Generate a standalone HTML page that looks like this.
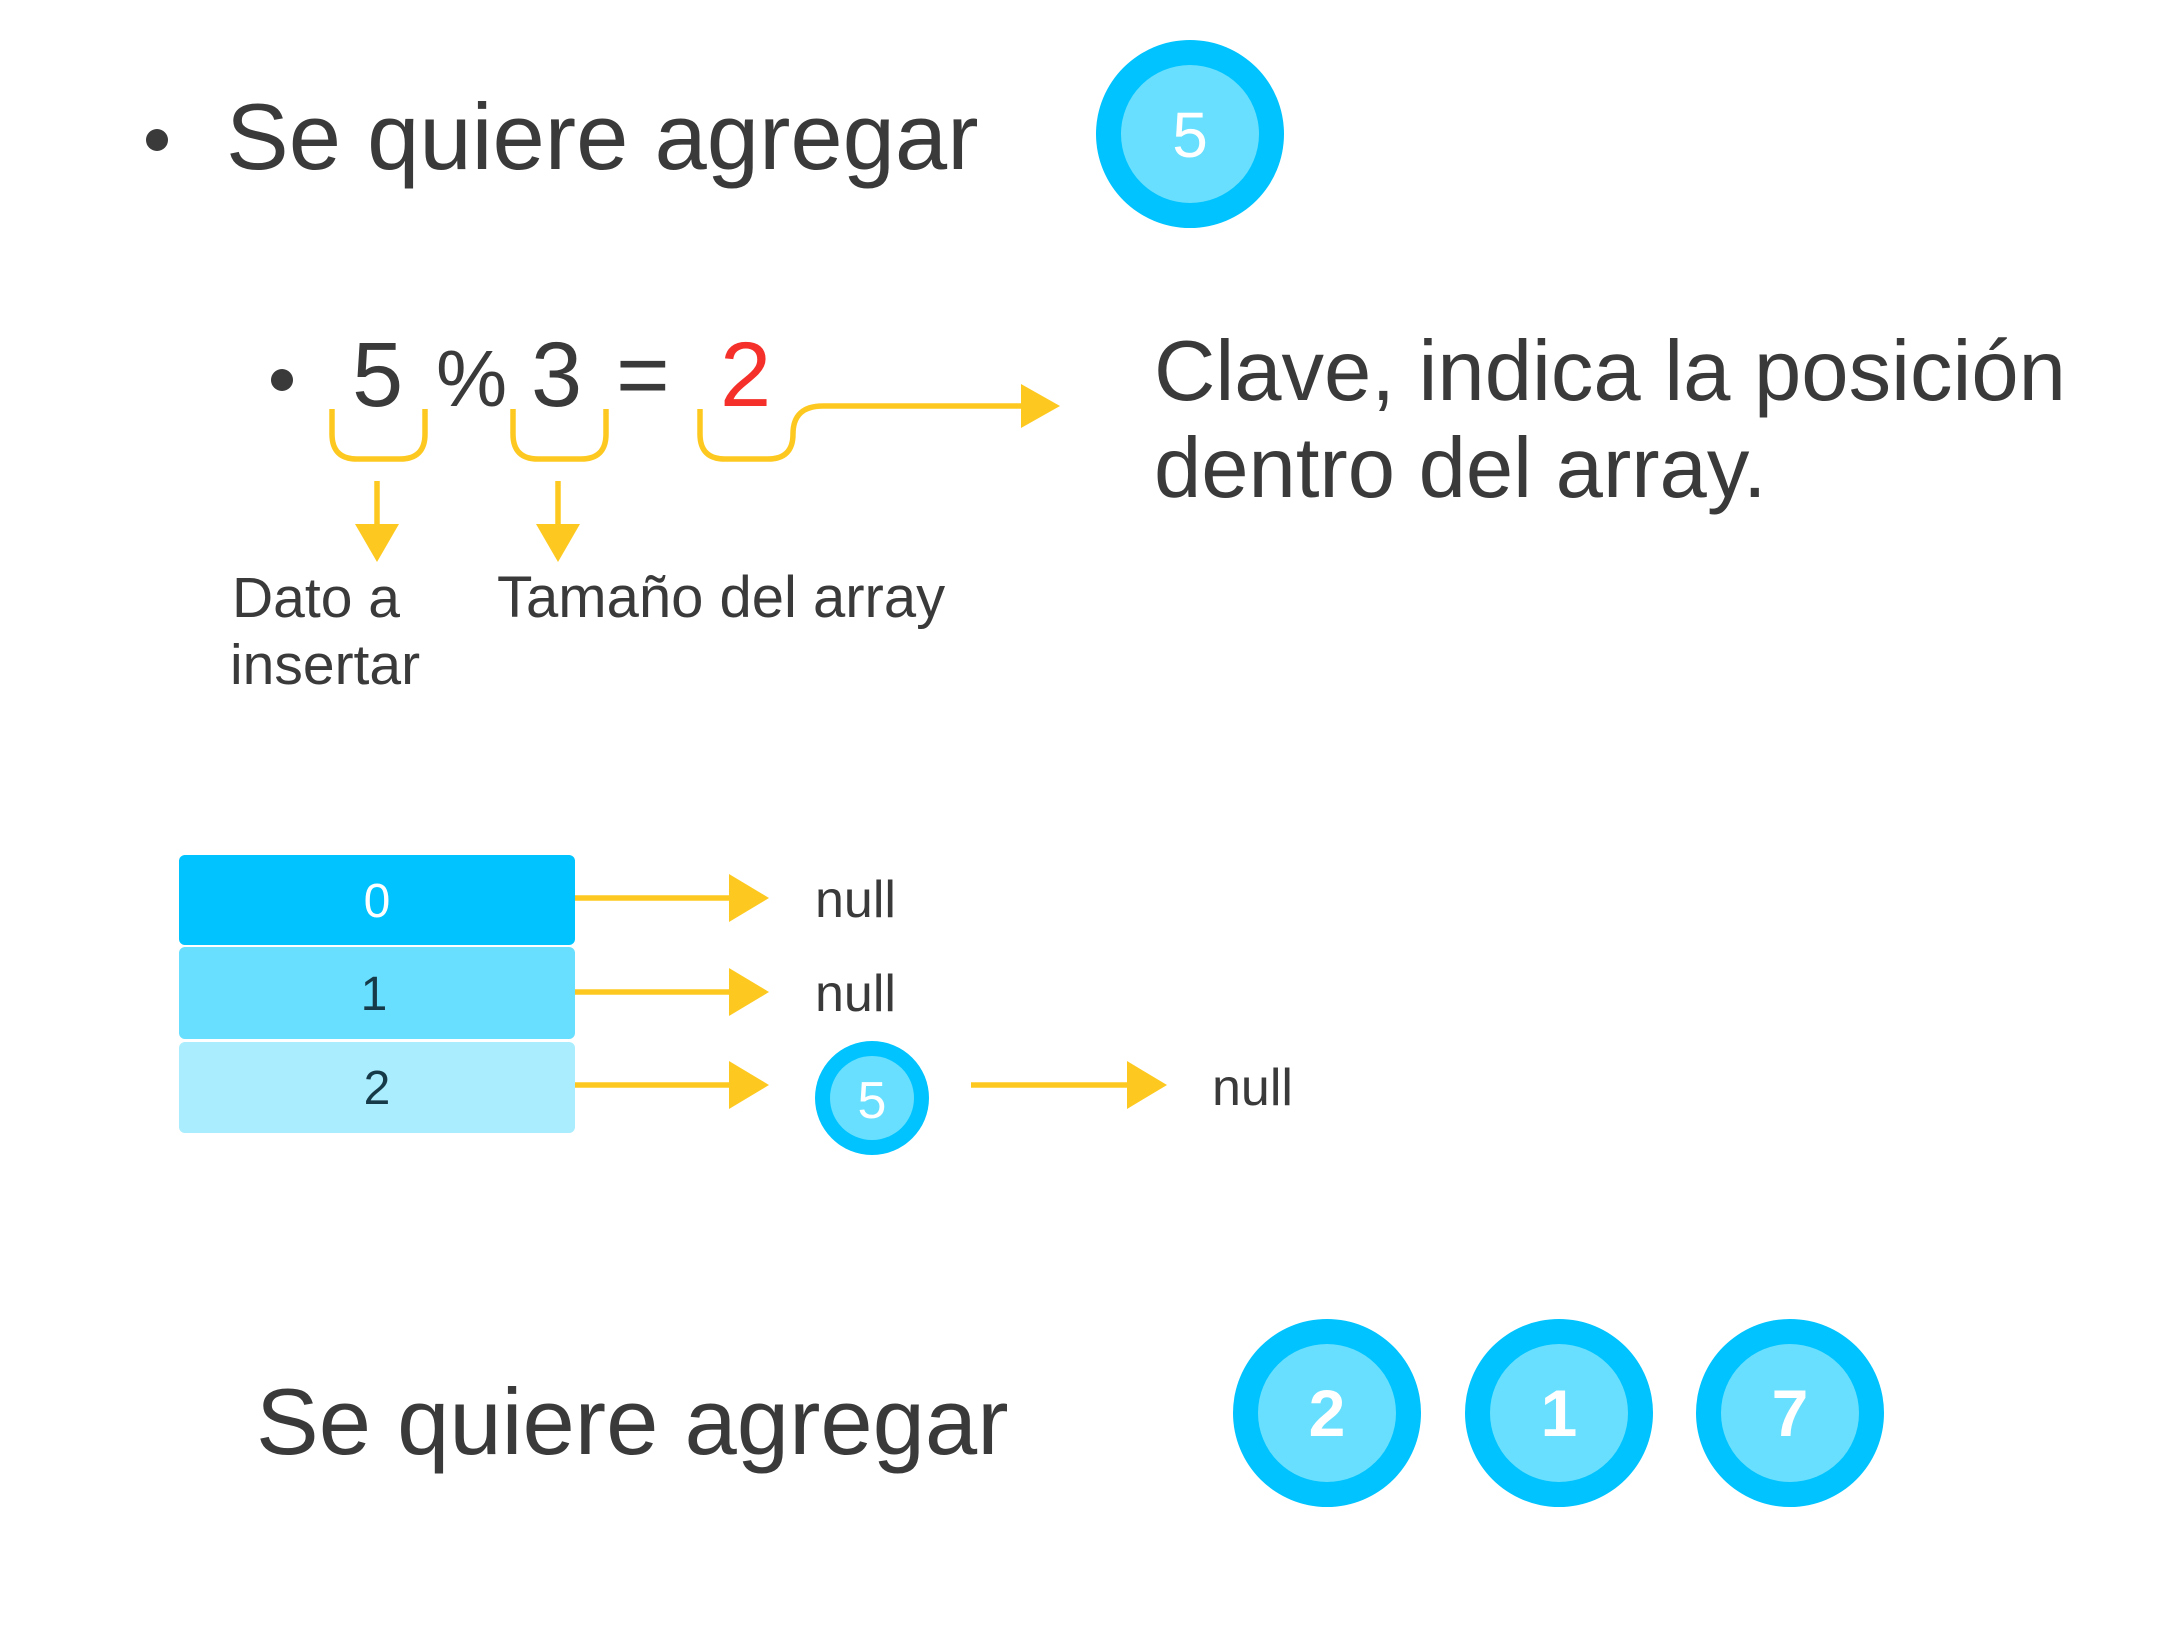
<!DOCTYPE html>
<html><head><meta charset="utf-8"><style>
html,body{margin:0;padding:0;background:#fff;}
svg{display:block;}
text{font-family:"Liberation Sans",sans-serif;fill:#3a3a3a;}
</style></head><body>
<svg width="2159" height="1632" viewBox="0 0 2159 1632" xmlns="http://www.w3.org/2000/svg">
<circle cx="157" cy="140" r="11" fill="#3a3a3a"/>
<text x="226" y="169" font-size="94">Se quiere agregar</text>
<circle cx="1190" cy="134" r="94" fill="#00c3ff"/>
<circle cx="1190" cy="134" r="69" fill="#68dffe"/>
<text x="1190" y="157" font-size="64" text-anchor="middle" style="fill:#fff">5</text>

<circle cx="282" cy="380" r="11" fill="#3a3a3a"/>
<text x="352" y="406" font-size="92">5</text>
<text x="436" y="406" font-size="80">%</text>
<text x="531" y="406" font-size="92">3</text>
<text x="616" y="406" font-size="92">=</text>
<text x="720" y="406" font-size="92" style="fill:#f5302a">2</text>

<g fill="none" stroke="#fdc921" stroke-width="5.5">
<path d="M332 409 V434 Q332 459 357 459 H400 Q425 459 425 434 V409"/>
<path d="M513 409 V434 Q513 459 538 459 H581 Q606 459 606 434 V409"/>
<path d="M700 409 V434 Q700 459 725 459 H768 Q793 459 793 434 Q793 406 823 406 H1028"/>
<line x1="377" y1="481" x2="377" y2="528"/>
<line x1="558" y1="481" x2="558" y2="528"/>
<line x1="574" y1="898" x2="733" y2="898"/>
<line x1="574" y1="992" x2="733" y2="992"/>
<line x1="574" y1="1085" x2="733" y2="1085"/>
<line x1="971" y1="1085" x2="1131" y2="1085"/>
</g>
<g fill="#fdc921">
<polygon points="1021,384 1060,406 1021,428"/>
<polygon points="355,524 399,524 377,562"/>
<polygon points="536,524 580,524 558,562"/>
<polygon points="729,874 769,898 729,922"/>
<polygon points="729,968 769,992 729,1016"/>
<polygon points="729,1061 769,1085 729,1109"/>
<polygon points="1127,1061 1167,1085 1127,1109"/>
</g>

<text x="232" y="617" font-size="57">Dato a</text>
<text x="230" y="684" font-size="57">insertar</text>
<text x="497" y="617" font-size="58">Tamaño del array</text>

<text x="1154" y="400" font-size="85">Clave, indica la posición</text>
<text x="1154" y="497" font-size="85">dentro del array.</text>

<rect x="179" y="855" width="396" height="90" rx="6" fill="#00c3ff"/>
<rect x="179" y="947" width="396" height="92" rx="6" fill="#68dffe"/>
<rect x="179" y="1042" width="396" height="91" rx="6" fill="#aaedfe"/>
<text x="377" y="917" font-size="48" text-anchor="middle" style="fill:#fff">0</text>
<text x="374" y="1010" font-size="48" text-anchor="middle" style="fill:#173a48">1</text>
<text x="377" y="1104" font-size="48" text-anchor="middle" style="fill:#173a48">2</text>

<text x="815" y="917" font-size="52">null</text>
<text x="815" y="1011" font-size="52">null</text>
<text x="1212" y="1105" font-size="52">null</text>

<circle cx="872" cy="1098" r="57" fill="#00c3ff"/>
<circle cx="872" cy="1098" r="42" fill="#68dffe"/>
<text x="872" y="1118" font-size="52" text-anchor="middle" style="fill:#fff">5</text>

<text x="256" y="1454" font-size="94">Se quiere agregar</text>
<circle cx="1327" cy="1413" r="94" fill="#00c3ff"/>
<circle cx="1327" cy="1413" r="69" fill="#68dffe"/>
<text x="1327" y="1436" font-size="66" font-weight="bold" text-anchor="middle" style="fill:#fff">2</text>
<circle cx="1559" cy="1413" r="94" fill="#00c3ff"/>
<circle cx="1559" cy="1413" r="69" fill="#68dffe"/>
<text x="1559" y="1436" font-size="66" font-weight="bold" text-anchor="middle" style="fill:#fff">1</text>
<circle cx="1790" cy="1413" r="94" fill="#00c3ff"/>
<circle cx="1790" cy="1413" r="69" fill="#68dffe"/>
<text x="1790" y="1436" font-size="66" font-weight="bold" text-anchor="middle" style="fill:#fff">7</text>
</svg>
</body></html>
